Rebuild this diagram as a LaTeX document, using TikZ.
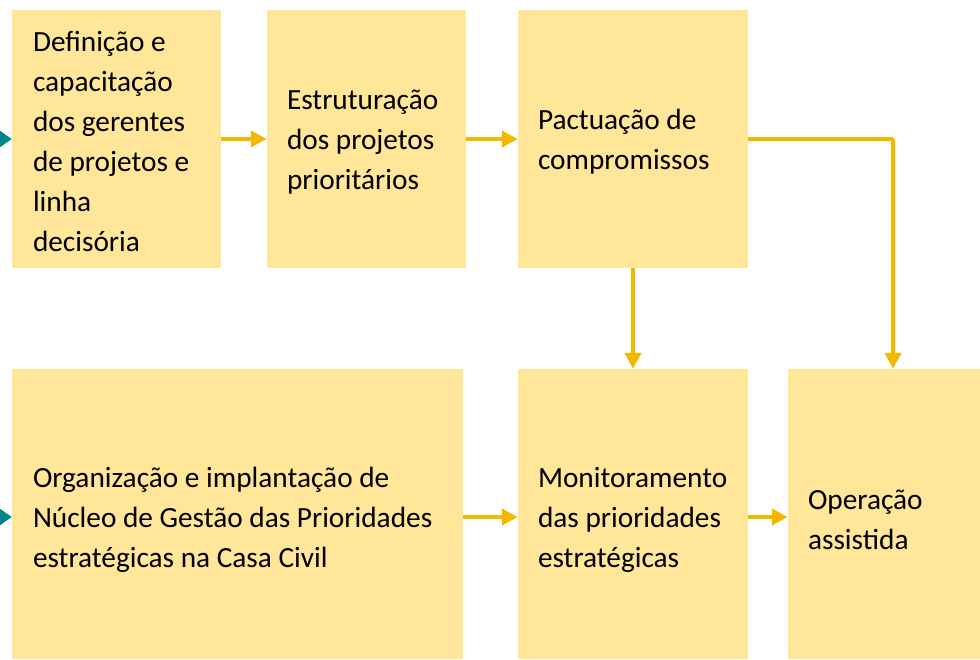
\documentclass[tikz,border=0pt]{standalone}
\usepackage{fontspec}
\setmainfont{Carlito}
\usetikzlibrary{arrows.meta}
\definecolor{boxfill}{RGB}{255,230,153}
\definecolor{flow}{RGB}{242,184,0}
\definecolor{inflow}{RGB}{0,133,140}
\begin{document}
\begin{tikzpicture}[x=1pt,y=-1pt,
  every node/.style={font=\fontsize{29.3}{40}\selectfont},
  stage/.style={fill=boxfill,draw=none,inner sep=0pt},
  label/.style={align=left,anchor=west,inner sep=0pt},
  link/.style={-{Triangle[length=16pt,width=16pt]},line width=4pt,flow},
  feed/.style={-{Triangle[length=12pt,width=16pt]},line width=4pt,inflow}]
\useasboundingbox (0,0) rectangle (980,659);
\node[stage,minimum width=209pt,minimum height=258pt] (def) at (116.5,139) {};
\node[stage,minimum width=199pt,minimum height=258pt] (est) at (366.5,139) {};
\node[stage,minimum width=230pt,minimum height=258pt] (pac) at (633,139) {};
\node[stage,minimum width=451pt,minimum height=290pt] (org) at (237.5,514) {};
\node[stage,minimum width=230pt,minimum height=290pt] (mon) at (633,514) {};
\node[stage,minimum width=192pt,minimum height=290pt] (ope) at (884,514) {};
\node[label] (def-t) at ([xshift=21pt,yshift=-2pt]def.west) {Definição e\\capacitação\\dos gerentes\\de projetos e\\linha\\decisória};
\node[label] (est-t) at ([xshift=20pt,yshift=-3pt]est.west) {Estruturação\\dos projetos\\prioritários};
\node[label] (pac-t) at ([xshift=20pt,yshift=-3pt]pac.west) {Pactuação de\\compromissos};
\node[label] (org-t) at ([xshift=21pt,yshift=-6pt]org.west) {Organização e implantação de\\Núcleo de Gestão das Prioridades\\estratégicas na Casa Civil};
\node[label] (mon-t) at ([xshift=20pt,yshift=-6pt]mon.west) {Monitoramento\\das prioridades\\estratégicas};
\node[label] (ope-t) at ([xshift=20pt,yshift=-6pt]ope.west) {Operação\\assistida};
\coordinate (in1) at (-30,139);
\coordinate (in2) at (-30,517);
\draw[feed] (in1) -- (def.west);
\draw[feed] (in2) -- ([yshift=-3pt]org.west);
\draw[link] (def.east) -- (est.west);
\draw[link] (est.east) -- (pac.west);
\draw[link,rounded corners=2pt] (pac.east) -| ([xshift=9pt]ope.north);
\draw[link] (pac.south) -- (mon.north);
\draw[link] ([yshift=-3pt]org.east) -- ([yshift=-3pt]mon.west);
\draw[link] ([yshift=-3pt]mon.east) -- ([yshift=-3pt]ope.west);
\end{tikzpicture}
\end{document}
